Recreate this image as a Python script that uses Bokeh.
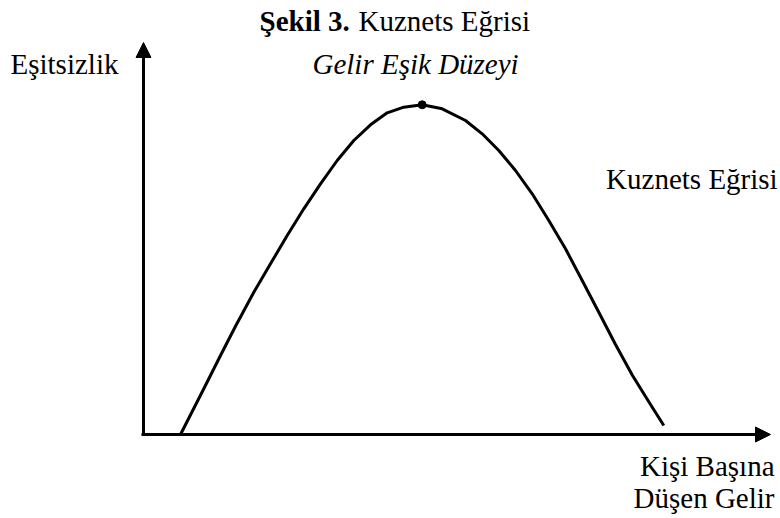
import numpy as np
from bokeh.plotting import figure
from bokeh.models import Range1d, Arrow, NormalHead, Label, ColumnDataSource
from bokeh.embed import file_html
from bokeh.resources import INLINE

# Kuznets curve: per-capita income vs inequality (arbitrary units)
income = [3.7, 6.03, 7.7, 9.2, 11.03, 12.7, 14.37, 16.03, 17.7, 19.37, 21.03, 22.7,
          24.37, 26.03, 27.87, 29.87, 32.2, 33.87, 35.53, 37.2, 38.87, 40.53, 42.2,
          43.87, 45.53, 47.2, 48.9, 50.7, 52.03]
inequality = [0.0, 4.57, 7.9, 10.83, 14.23, 17.07, 19.9, 22.57, 25.07, 27.4, 29.4, 30.97,
              32.17, 32.73, 32.97, 32.57, 31.4, 30.07, 28.4, 26.4, 24.07, 21.4, 18.57,
              15.4, 12.23, 9.0, 5.9, 3.0, 0.9]

title_bold = "Şekil 3."
title_rest = "Kuznets Eğrisi"
y_label = "Eşitsizlik"
peak_label = "Gelir Eşik Düzeyi"
curve_label = "Kuznets Eğrisi"
x_label_1 = "Kişi Başına"
x_label_2 = "Düşen Gelir"

FONT = "Liberation Serif"
FS = "29px"

p = figure(width=778, height=516, output_backend="svg", toolbar_location=None,
           x_range=Range1d(-14.3, 63.5), y_range=Range1d(-8.2, 43.4),
           min_border=0)
p.axis.visible = False
p.grid.visible = False
p.outline_line_color = None
p.background_fill_color = "white"
p.border_fill_color = "white"

src = ColumnDataSource(dict(x=income, y=inequality))
p.line("x", "y", source=src, line_color="black", line_width=3, line_join="round")

i_peak = int(np.argmax(inequality))
p.scatter([income[i_peak]], [inequality[i_peak]], size=8, color="black")

# axes as arrows
p.add_layout(Arrow(end=NormalHead(size=15, fill_color="black", line_color="black"),
                   x_start=-0.2, y_start=0, x_end=62.7, y_end=0,
                   line_color="black", line_width=3))
p.add_layout(Arrow(end=NormalHead(size=15, fill_color="black", line_color="black"),
                   x_start=0, y_start=-0.15, x_end=0, y_end=39.2,
                   line_color="black", line_width=3))

def lab(text, x, y, align="left", style="normal"):
    p.add_layout(Label(x=x, y=y, text=text, text_font=FONT, text_font_size=FS,
                       text_align=align, text_baseline="alphabetic",
                       text_font_style=style, text_color="black"))

lab(title_bold, 11.6, 41.4, style="bold")
lab(title_rest, 21.5, 41.4)
lab(y_label, -13.3, 37.05)
lab(peak_label, 16.9, 37.05, style="italic")
lab(curve_label, 46.26, 25.6)
lab(x_label_1, 63.1, -3.15, align="right")
lab(x_label_2, 63.1, -6.3, align="right")

open("out.html", "w").write(file_html(p, INLINE))
